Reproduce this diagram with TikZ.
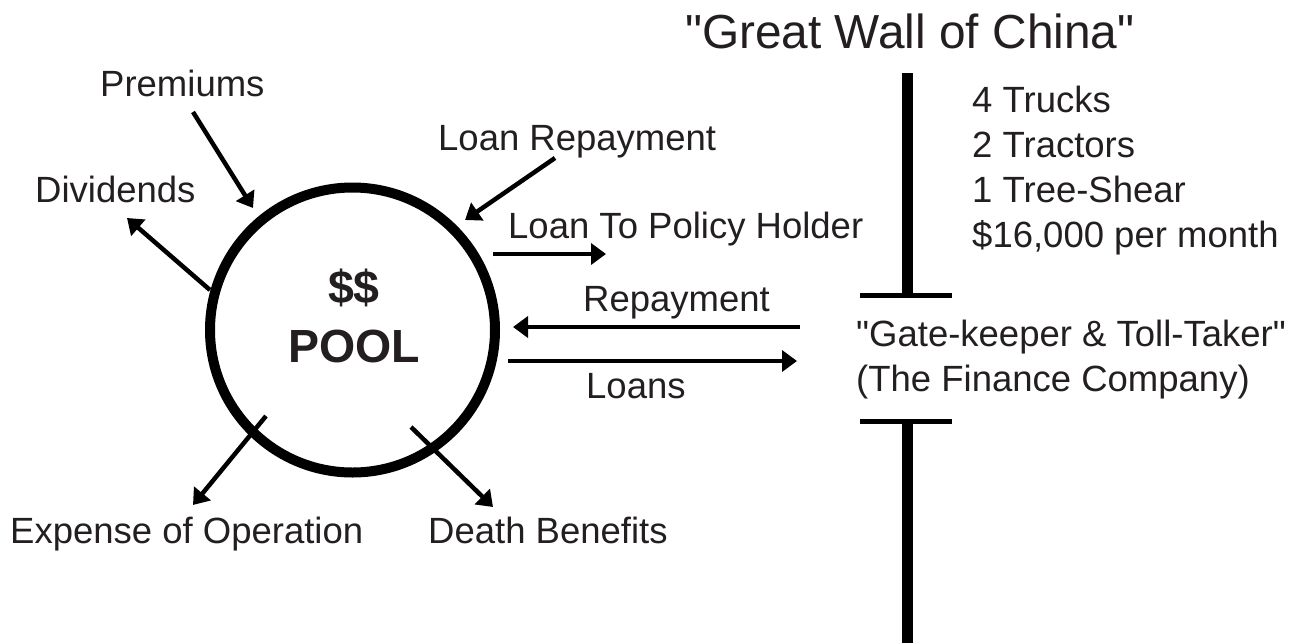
\documentclass[tikz,border=0pt]{standalone}
\usepackage{fontspec}
\setmainfont{Liberation Sans}[Ligatures=TeXOff]
\usetikzlibrary{arrows.meta}
\definecolor{ink}{HTML}{231F20}
\begin{document}
\begin{tikzpicture}[x=1pt,y=-1pt,
  lbl/.style={anchor=base west, inner sep=0pt, text=ink, font=\fontsize{36.5}{45}\selectfont},
  title/.style={lbl, font=\fontsize{47.8}{55}\selectfont},
  big/.style={anchor=base, inner sep=0pt, text=ink, font=\fontsize{46.5}{52}\selectfont\bfseries},
  flow/.style={line width=4.5pt, -{Triangle[length=15pt,width=21pt]}},
  wallpost/.style={line width=11pt},
  gatebar/.style={line width=5.5pt}]
\useasboundingbox (0,0) rectangle (1299,643);

% the money pool
\node[circle, draw, line width=10pt, minimum size=285pt, inner sep=0pt] (pool) at (352.5,330) {};
\node[big] (dollars) at (354,303) {\$\$};
\node[big] (poolname) at (354,362) {POOL};

% labels around the pool
\node[lbl] (premiums) at (100,96) {Premiums};
\node[lbl] (dividends) at (35,202) {Dividends};
\node[lbl] (loanrep) at (438,150) {Loan Repayment};
\node[lbl] (loanpol) at (508,238) {Loan To Policy Holder};
\node[lbl] (repay) at (583,311) {Repayment};
\node[lbl] (loans) at (586,398) {Loans};
\node[lbl] (expense) at (10,543) {Expense of Operation};
\node[lbl] (death) at (428,543) {Death Benefits};

% arrow end points
\coordinate (premA) at (193,112);  \coordinate (premB) at (253,208);
\coordinate (divA) at (210,290);   \coordinate (divB) at (127,218);
\coordinate (lrA) at (555,158);    \coordinate (lrB) at (465,220);
\coordinate (lpA) at (493,254);    \coordinate (lpB) at (606,254);
\coordinate (rpA) at (800,327);    \coordinate (rpB) at (513,327);
\coordinate (lnA) at (508,361);    \coordinate (lnB) at (797,361);
\coordinate (exA) at (266,416);    \coordinate (exB) at (193,505);
\coordinate (dbA) at (411,427);    \coordinate (dbB) at (493,507);

\draw[flow] (premA) -- (premB);
\draw[flow] (divA) -- (divB);
\draw[flow] (lrA) -- (lrB);
\draw[flow] (lpA) -- (lpB);
\draw[flow] (rpA) -- (rpB);
\draw[flow] (lnA) -- (lnB);
\draw[flow] (exA) -- (exB);
\draw[flow] (dbA) -- (dbB);

% the wall with its gate
\node[title] (wallname) at (685,48) {"Great Wall of China"};
\coordinate (wallTop) at (907,73);
\coordinate (gateUp) at (907,295.5);
\coordinate (gateDown) at (907,421.5);
\coordinate (wallBottom) at (907,643);
\coordinate (gUpL) at (860,295.5);   \coordinate (gUpR) at (952,295.5);
\coordinate (gDnL) at (860,421.5);   \coordinate (gDnR) at (952,421.5);
\draw[wallpost] (wallTop) -- (gateUp);
\draw[wallpost] (gateDown) -- (wallBottom);
\draw[gatebar] (gUpL) -- (gUpR);
\draw[gatebar] (gDnL) -- (gDnR);

% fleet list
\node[lbl] (trucks) at (972,112) {4 Trucks};
\node[lbl] (tractors) at (972,157) {2 Tractors};
\node[lbl] (shear) at (972,202) {1 Tree-Shear};
\node[lbl] (cost) at (972,247) {\$16,000 per month};

% gate keeper
\node[lbl] (keeper) at (856,346) {"Gate-keeper \& Toll-Taker"};
\node[lbl] (finco) at (856,391) {(The Finance Company)};
\end{tikzpicture}
\end{document}
